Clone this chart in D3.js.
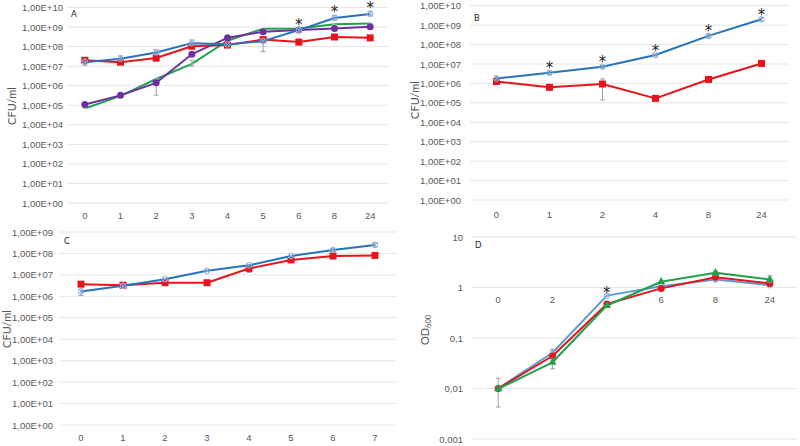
<!DOCTYPE html>
<html>
<head>
<meta charset="utf-8">
<script src="https://cdn.jsdelivr.net/npm/d3@7"></script>
<style>
  body { margin: 0; background: #fff; }
  svg { display: block; font-family: Lato, "Open Sans", sans-serif; }
  .tick text { fill: #595959; font-size: 9.5px; }
</style>
</head>
<body>
<svg id="chart" width="800" height="446"></svg>
<script>
// ---- data ----
var catsA = ["0", "1", "2", "3", "4", "5", "6", "8", "24"];
var blueA   = [1.6e7, 2.4e7, 5e7, 1.5e8, 1.3e8, 1.9e8, 7e8, 2.9e9, 4.6e9];
var redA    = [2e7, 1.6e7, 2.6e7, 1.05e8, 1.2e8, 2.3e8, 1.7e8, 3.1e8, 2.8e8];
var purpleA = [1.1e5, 3.2e5, 1.4e6, 4.1e7, 2.8e8, 5.8e8, 7e8, 8.5e8, 1.05e9];
var greenA  = [6.8e4, 3e5, 2.2e6, 1.3e7, 2e8, 8.3e8, 8.5e8, 1.4e9, 1.5e9];
var blueAerr   = [[1.1e7, 2.4e7], [2e7, 3.4e7], [4.5e7, 7e7], [1.2e8, 2.2e8], null, [5.5e7, 2.2e8], [5.5e8, 8e8], [2.2e9, 4e9], [4e9, 6.5e9]];
var redAerr    = [null, [1.3e7, 2e7], [1.8e7, 3.8e7], null, [9e7, 1.4e8], null, null, null, null];
var purpleAerr = [null, null, [3.3e5, 2e6], null, null, null, null, null, null];
var greenAerr  = [null, null, null, [1e7, 2e7], null, null, null, null, null];
var starsA = ["6", "8", "24"];

var catsB = ["0", "1", "2", "4", "8", "24"];
var blueB = [1.8e6, 3.5e6, 7.2e6, 2.9e7, 2.8e8, 2e9];
var redB  = [1.26e6, 6.3e5, 9.3e5, 1.7e5, 1.6e6, 1.07e7];
var blueBerr = [[1.5e6, 2.3e6], [2.8e6, 4.2e6], [6e6, 8.5e6], [2.6e7, 3.2e7], [2.1e8, 3.5e8], [1.6e9, 2.4e9]];
var redBerr  = [null, null, [1.4e5, 1.7e6], null, [1.2e6, 2e6], null];
var starsB = ["1", "2", "4", "8", "24"];

var catsC = ["0", "1", "2", "3", "4", "5", "6", "7"];
var blueC = [1.7e6, 3.1e6, 6.3e6, 1.55e7, 2.8e7, 7.6e7, 1.45e8, 2.5e8];
var redC  = [3.7e6, 3.3e6, 4.3e6, 4.3e6, 2e7, 5e7, 7.6e7, 8.1e7];
var blueCerr = [[1.1e6, 2.5e6], [2.6e6, 3.8e6], null, null, null, null, [1.2e8, 1.7e8], [2e8, 3.2e8]];
var redCerr  = [null, [2.8e6, 3.8e6], null, null, [1.3e7, 2.5e7], null, null, null];

var catsD = ["0", "2", "4", "6", "8", "24"];
var labelsD = ["0", "2", "", "6", "8", "24"]; // "4" is hidden behind the lines in the original
var blueD  = [0.01, 0.051, 0.69, 1.06, 1.44, 1.11];
var redD   = [0.01, 0.044, 0.47, 0.96, 1.6, 1.2];
var greenD = [0.0098, 0.033, 0.44, 1.3, 1.95, 1.44];
var blueDerr  = [[0.0043, 0.016], [0.042, 0.06], null, null, [1.3, 1.55], null];
var redDerr   = [null, null, null, null, null, null];
var greenDerr = [null, [0.0245, 0.04], null, null, [1.75, 2.1], [1.25, 1.7]];
var starsD = ["4"];

var cBlue = "#2473bb", cBlueLight = "#8fb5df", cRed = "#e8141b",
    cPurple = "#7030a0", cGreen = "#22a050", cBlueD = "#5b9bd5";

var svg = d3.select("#chart");

function sci(v) {
  var e = Math.round(Math.log10(v));
  return "1,00E" + (e < 0 ? "-" : "+") + String(Math.abs(e)).padStart(2, "0");
}
function dec(v) {
  return String(+v.toPrecision(1)).replace(".", ",");
}

function panel(o) {
  var g = svg.append("g");
  var x = d3.scaleBand().domain(o.cats).range([o.x0, o.x1]);
  var y = d3.scaleLog().domain(o.ydom).range([o.yb, o.yt]);
  var ticks = [];
  for (var e = Math.log10(o.ydom[0]); e <= Math.log10(o.ydom[1]) + 1e-9; e++) ticks.push(Math.pow(10, e));

  // grid
  g.append("g").selectAll("line").data(ticks).join("line")
    .attr("x1", o.x0).attr("x2", o.x1)
    .attr("y1", d => y(d)).attr("y2", d => y(d))
    .attr("stroke", "#e6e6e6").attr("stroke-width", 1);

  // y axis labels
  var ya = g.append("g").attr("transform", "translate(" + o.x0 + ",0)")
    .call(d3.axisLeft(y).tickValues(ticks).tickFormat(o.fmt).tickSize(0).tickPadding(o.x0 - o.ylab));
  ya.select(".domain").remove();

  // x axis labels
  var xa = g.append("g").attr("transform", "translate(0," + o.xlabY + ")")
    .call(d3.axisBottom(x).tickSize(0).tickPadding(0).tickFormat((d, i) => o.xlabels ? o.xlabels[i] : d));
  xa.select(".domain").remove();

  // axis title (centred on titleX)
  var t = g.append("text")
    .attr("transform", "translate(" + o.titleX + "," + o.titleY + ") rotate(-90)")
    .attr("text-anchor", "middle").attr("dy", "0.35em").attr("fill", "#595959").attr("font-size", 11);
  if (o.od) {
    t.append("tspan").text("OD");
    t.append("tspan").attr("font-size", 7.5).attr("dy", 2.5).text("600");
  } else t.text("CFU/ml");

  // panel letter
  g.append("text").attr("x", o.x0 + 4).attr("y", o.letterY).attr("font-size", 8.5)
    .attr("fill", "#222").text(o.letter);

  var cx = d => x(d) + x.bandwidth() / 2;
  var line = d3.line().x(d => cx(d.c)).y(d => y(d.v));

  o.series.forEach(function(s) {
    var pts = o.cats.map((c, i) => ({ c: c, v: s.values[i], err: s.err ? s.err[i] : null }));
    // error bars
    var eb = g.append("g").attr("stroke", "#8c8c8c").attr("stroke-width", 0.8);
    pts.filter(p => p.err).forEach(function(p) {
      eb.append("line").attr("x1", cx(p.c)).attr("x2", cx(p.c)).attr("y1", y(p.err[0])).attr("y2", y(p.err[1]));
      eb.append("line").attr("x1", cx(p.c) - 2.5).attr("x2", cx(p.c) + 2.5).attr("y1", y(p.err[0])).attr("y2", y(p.err[0]));
      eb.append("line").attr("x1", cx(p.c) - 2.5).attr("x2", cx(p.c) + 2.5).attr("y1", y(p.err[1])).attr("y2", y(p.err[1]));
    });
    g.append("path").datum(pts).attr("d", line).attr("fill", "none")
      .attr("stroke", s.color).attr("stroke-width", 2).attr("stroke-linejoin", "round");
    var m = g.append("g");
    pts.forEach(function(p) {
      var px = cx(p.c), py = y(p.v);
      if (s.marker === "square") {
        m.append("rect").attr("x", px - 3.5).attr("y", py - 3.5).attr("width", 7).attr("height", 7).attr("fill", s.color);
      } else if (s.marker === "circle") {
        m.append("circle").attr("cx", px).attr("cy", py).attr("r", 3.5).attr("fill", s.color);
      } else if (s.marker === "open") {
        m.append("circle").attr("cx", px).attr("cy", py).attr("r", 2.8).attr("fill", "none").attr("stroke", cBlueLight).attr("stroke-width", 1);
        m.append("path").attr("d", "M" + (px - 2) + "," + (py - 2) + "L" + (px + 2) + "," + (py + 2) + "M" + (px - 2) + "," + (py + 2) + "L" + (px + 2) + "," + (py - 2))
          .attr("stroke", cBlueLight).attr("stroke-width", 1);
      } else if (s.marker === "triangle") {
        m.append("path").attr("d", d3.symbol(d3.symbolTriangle, 30)()).attr("transform", "translate(" + px + "," + py + ")").attr("fill", s.color);
      } else if (s.marker === "dash") {
        m.append("line").attr("x1", px - 2.5).attr("x2", px + 2.5).attr("y1", py).attr("y2", py).attr("stroke", "#9ad4ad").attr("stroke-width", 1);
      }
    });
  });

  // significance stars
  o.stars.forEach(function(c) {
    var top = d3.max(o.series, s => {
      var i = o.cats.indexOf(c);
      return s.err && s.err[i] ? s.err[i][1] : s.values[i];
    });
    g.append("text").attr("x", cx(c)).attr("y", Math.max(y(top) - 7, 3)).attr("text-anchor", "middle")
      .attr("font-size", 15).attr("font-family", "DejaVu Sans").attr("fill", "#222").text("*")
      .attr("dy", "0.6em");
  });
}

panel({
  cats: catsA, x0: 67, x1: 388, ydom: [1, 1e10], yb: 203, yt: 7.5, fmt: sci, ylab: 63,
  xlabY: 212, titleX: 12, titleY: 106, letter: "A", letterY: 17,
  stars: starsA,
  series: [
    { values: greenA, err: greenAerr, color: cGreen, marker: "dash" },
    { values: purpleA, err: purpleAerr, color: cPurple, marker: "circle" },
    { values: redA, err: redAerr, color: cRed, marker: "square" },
    { values: blueA, err: blueAerr, color: cBlue, marker: "open" }
  ]
});

panel({
  cats: catsB, x0: 470, x1: 788, ydom: [1, 1e10], yb: 200, yt: 5.7, fmt: sci, ylab: 461,
  xlabY: 211, titleX: 415, titleY: 100, letter: "B", letterY: 21,
  stars: starsB,
  series: [
    { values: redB, err: redBerr, color: cRed, marker: "square" },
    { values: blueB, err: blueBerr, color: cBlue, marker: "open" }
  ]
});

panel({
  cats: catsC, x0: 60, x1: 396, ydom: [1, 1e9], yb: 425, yt: 232, fmt: sci, ylab: 53,
  xlabY: 434, titleX: 7, titleY: 329, letter: "C", letterY: 244,
  stars: [],
  series: [
    { values: redC, err: redCerr, color: cRed, marker: "square" },
    { values: blueC, err: blueCerr, color: cBlue, marker: "open" }
  ]
});

panel({
  cats: catsD, xlabels: labelsD, x0: 471, x1: 797, ydom: [0.001, 10], yb: 439, yt: 237, fmt: dec, ylab: 463,
  xlabY: 296, titleX: 425, titleY: 330, letter: "D", letterY: 248, od: true,
  stars: starsD,
  series: [
    { values: blueD, err: blueDerr, color: cBlueD, marker: "open" },
    { values: redD, err: redDerr, color: cRed, marker: "circle" },
    { values: greenD, err: greenDerr, color: cGreen, marker: "triangle" }
  ]
});
</script>
</body>
</html>
